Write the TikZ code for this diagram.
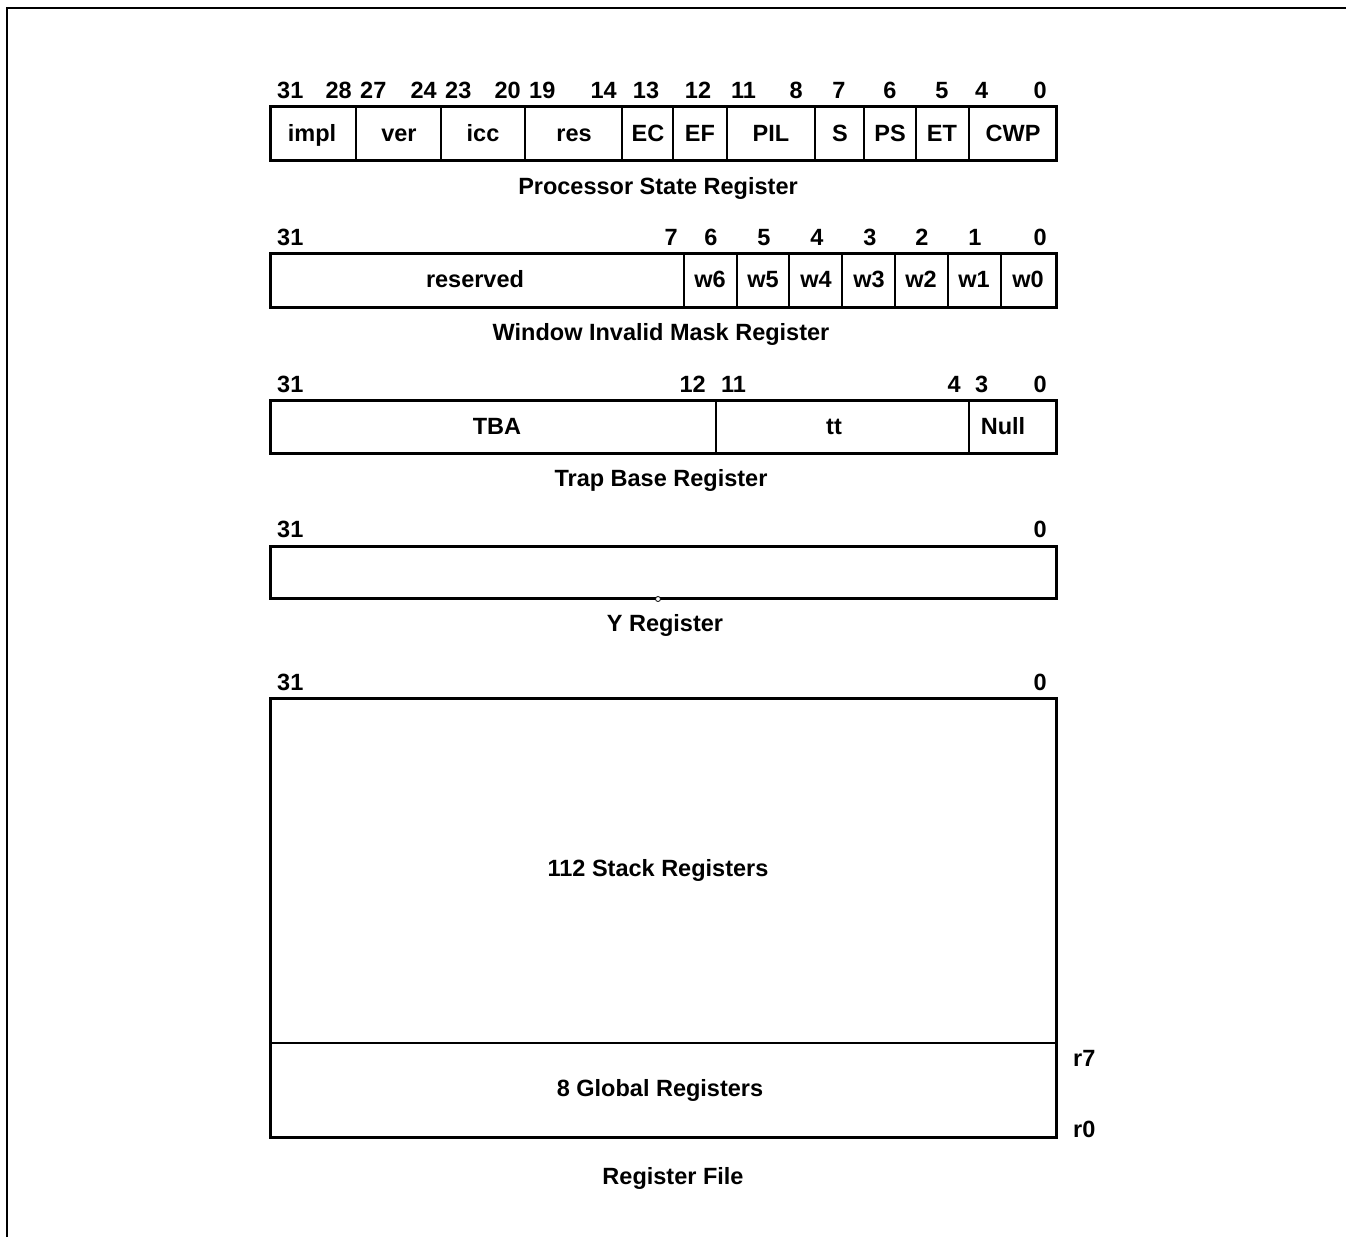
\documentclass[tikz,border=0pt]{standalone}
\usepackage{fontspec}
\setmainfont{Liberation Sans}
\begin{document}
\begin{tikzpicture}[x=1pt,y=-1pt,
  txt/.style={font=\bfseries\fontsize{23.5}{27}\selectfont, inner sep=0pt, anchor=base},
  regbox/.style={line width=3pt},
  divline/.style={line width=1.2pt},
  frameline/.style={line width=2pt}]
\useasboundingbox (0,0) rectangle (1346,1237);
% frame
\draw[frameline] (7,1237) -- (7,8) -- (1346,8);

% ---------- Processor State Register ----------
\draw[regbox] (270,106) rectangle (1056,160);
\foreach \x in {356,441,525,622,673,727,815,864,916,969}
  \draw[divline] (\x,106) -- (\x,160);
\node[txt,anchor=base west] (p31) at (277,98) {31};
\node[txt,anchor=base east] (p28) at (352,98) {28};
\node[txt,anchor=base west] (p27) at (360,98) {27};
\node[txt,anchor=base east] (p24) at (437,98) {24};
\node[txt,anchor=base west] (p23) at (445,98) {23};
\node[txt,anchor=base east] (p20) at (521,98) {20};
\node[txt,anchor=base west] (p19) at (529,98) {19};
\node[txt,anchor=base east] (p14) at (617,98) {14};
\node[txt] (p13) at (646,98) {13};
\node[txt] (p12) at (698,98) {12};
\node[txt,anchor=base west] (p11) at (731,98) {11};
\node[txt,anchor=base east] (p8) at (803,98) {8};
\node[txt] (p7) at (839,98) {7};
\node[txt] (p6) at (890,98) {6};
\node[txt] (p5) at (942,98) {5};
\node[txt,anchor=base west] (p4) at (975,98) {4};
\node[txt,anchor=base east] (p0) at (1047,98) {0};
\node[txt] (impl) at (312,141) {impl};
\node[txt] (ver) at (399,141) {ver};
\node[txt] (icc) at (483,141) {icc};
\node[txt] (res) at (574,141) {res};
\node[txt] (ec) at (648,141) {EC};
\node[txt] (ef) at (700,141) {EF};
\node[txt] (pil) at (771,141) {PIL};
\node[txt] (s) at (840,141) {S};
\node[txt] (ps) at (890,141) {PS};
\node[txt] (et) at (942,141) {ET};
\node[txt] (cwp) at (1013,141) {CWP};
\node[txt] (psrt) at (658,194) {Processor State Register};

% ---------- Window Invalid Mask Register ----------
\draw[regbox] (270,253) rectangle (1056,307);
\foreach \x in {684,737,789,842,895,948,1001}
  \draw[divline] (\x,253) -- (\x,307);
\node[txt,anchor=base west] (w31) at (277,245) {31};
\node[txt,anchor=base east] (w7) at (678,245) {7};
\node[txt] (w6l) at (711,245) {6};
\node[txt] (w5l) at (764,245) {5};
\node[txt] (w4l) at (817,245) {4};
\node[txt] (w3l) at (870,245) {3};
\node[txt] (w2l) at (922,245) {2};
\node[txt] (w1l) at (975,245) {1};
\node[txt,anchor=base east] (w0l) at (1047,245) {0};
\node[txt] (resv) at (475,287) {reserved};
\node[txt] (w6) at (710,287) {w6};
\node[txt] (w5) at (763,287) {w5};
\node[txt] (w4) at (816,287) {w4};
\node[txt] (w3) at (869,287) {w3};
\node[txt] (w2) at (921,287) {w2};
\node[txt] (w1) at (974,287) {w1};
\node[txt] (w0) at (1028,287) {w0};
\node[txt] (wimt) at (661,340) {Window Invalid Mask Register};

% ---------- Trap Base Register ----------
\draw[regbox] (270,400) rectangle (1056,453);
\foreach \x in {716,969}
  \draw[divline] (\x,400) -- (\x,453);
\node[txt,anchor=base west] (t31) at (277,392) {31};
\node[txt,anchor=base east] (t12) at (706,392) {12};
\node[txt,anchor=base west] (t11) at (721,392) {11};
\node[txt,anchor=base east] (t4) at (961,392) {4};
\node[txt,anchor=base west] (t3) at (975,392) {3};
\node[txt,anchor=base east] (t0) at (1047,392) {0};
\node[txt] (tba) at (497,434) {TBA};
\node[txt] (tt) at (834,434) {tt};
\node[txt] (null) at (1003,434) {Null};
\node[txt] (tbrt) at (661,486) {Trap Base Register};

% ---------- Y Register ----------
\draw[regbox] (270,546) rectangle (1056,598);
\node[txt,anchor=base west] (y31) at (277,537) {31};
\node[txt,anchor=base east] (y0) at (1047,537) {0};
\draw[line width=0.8pt,fill=white] (658,599) circle (2.5);
\node[txt] (yt) at (665,631) {Y Register};

% ---------- Register File ----------
\draw[regbox] (270,698) rectangle (1056,1137);
\draw[divline] (270,1043) -- (1056,1043);
\node[txt,anchor=base west] (r31) at (277,690) {31};
\node[txt,anchor=base east] (r0l) at (1047,690) {0};
\node[txt] (stack) at (658,876) {112 Stack Registers};
\node[txt] (glob) at (660,1096) {8 Global Registers};
\node[txt,anchor=base west] (r7) at (1073,1066) {r7};
\node[txt,anchor=base west] (r0) at (1073,1137) {r0};
\node[txt] (rft) at (673,1184) {Register File};
\end{tikzpicture}
\end{document}
